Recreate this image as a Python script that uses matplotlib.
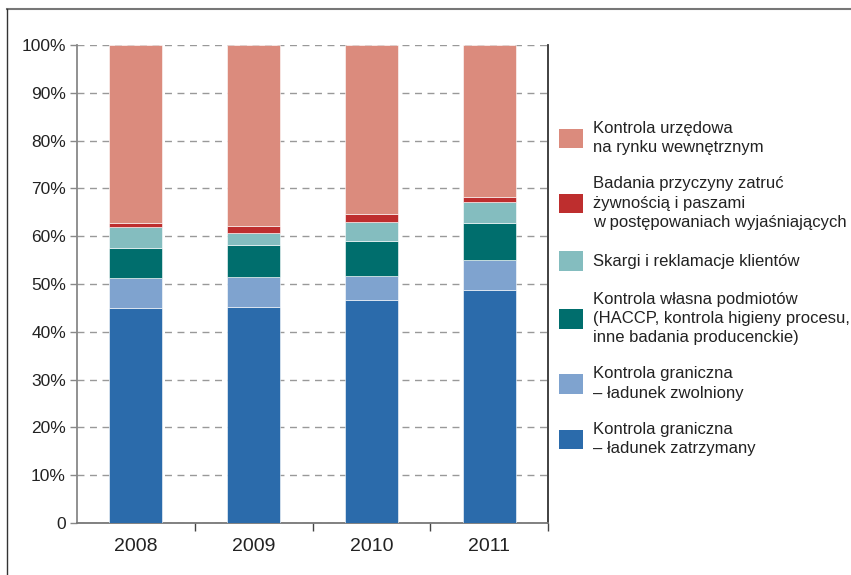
import numpy as np
import matplotlib
matplotlib.use("Agg")
import matplotlib.pyplot as plt
from matplotlib.lines import Line2D
from matplotlib.patches import Patch

plt.rcParams['font.family'] = ['Liberation Sans', 'DejaVu Sans']

years = ['2008', '2009', '2010', '2011']

# shares in % (bottom -> top)
zatrzymany = [45.0, 45.1, 46.7, 48.7]
zwolniony = [6.3, 6.3, 5.0, 6.3]
kontrola_wlasna = [6.3, 6.8, 7.3, 7.8]
skargi = [4.3, 2.5, 4.0, 4.3]
zatrucia = [0.9, 1.5, 1.6, 1.1]
urzedowa = [37.2, 37.8, 35.4, 31.8]

series = [
    (zatrzymany, '#2b6bab', 'Kontrola graniczna\n– ładunek zatrzymany'),
    (zwolniony, '#7fa3cf', 'Kontrola graniczna\n– ładunek zwolniony'),
    (kontrola_wlasna, '#006e6d', 'Kontrola własna podmiotów\n(HACCP, kontrola higieny procesu,\ninne badania producenckie)'),
    (skargi, '#84bdbf', 'Skargi i reklamacje klientów'),
    (zatrucia, '#be2e2e', 'Badania przyczyny zatruć\nżywnością i paszami\nw postępowaniach wyjaśniających'),
    (urzedowa, '#db8b7d', 'Kontrola urzędowa\nna rynku wewnętrznym'),
]

fig = plt.figure(figsize=(8.51, 5.75), dpi=100)
ax = fig.add_axes([77 / 851, 52 / 575, 471 / 851, 478 / 575])

x = np.arange(len(years))
bottom = np.zeros(len(years))
handles = []
for vals, col, lab in series:
    ax.bar(x, vals, 0.45, bottom=bottom, color=col, edgecolor='white',
           linewidth=0.4, zorder=3)
    bottom += np.array(vals)
    handles.append(Patch(facecolor=col, edgecolor='none', label=lab))

ax.set_xlim(-0.5, 3.5)
ax.set_ylim(0, 100)
ax.set_yticks(np.arange(0, 101, 10))
ax.set_yticklabels(['0'] + [f'{v}%' for v in range(10, 101, 10)])
ax.set_xticks(x)
ax.set_xticklabels(years)
ax.set_xticks(np.arange(0.5, 3.6, 1), minor=True)
ax.tick_params(axis='x', which='major', length=0, pad=11, labelsize=14,
               labelcolor='#222222')
ax.tick_params(axis='x', which='minor', length=6, color='#444444', width=1)
ax.tick_params(axis='y', length=5, color='#888888', width=1, labelsize=12.5,
               labelcolor='#222222', pad=3)
ax.yaxis.grid(True, linestyle=(0, (5, 4)), color='#999999', linewidth=1,
              zorder=0)

ax.spines['top'].set_visible(False)
ax.spines['left'].set_color('#888888')
ax.spines['left'].set_linewidth(1.3)
ax.spines['bottom'].set_color('#777777')
ax.spines['bottom'].set_linewidth(1.3)
ax.spines['right'].set_color('#333333')
ax.spines['right'].set_linewidth(1.3)

leg = fig.legend(handles=handles[::-1], loc='upper left',
                 bbox_to_anchor=(559 / 851, 1 - 121 / 575), frameon=False,
                 fontsize=12, handlelength=1.45, handleheight=1.45,
                 handletextpad=0.6, labelspacing=1.27, borderpad=0,
                 borderaxespad=0)
for t in leg.get_texts():
    t.set_color('#222222')
    t.set_linespacing(1.35)

# outer frame (top and left only)
fig.add_artist(Line2D([7 / 851, 1], [1 - 8.5 / 575, 1 - 8.5 / 575],
                      transform=fig.transFigure, color='#777777', lw=1.5))
fig.add_artist(Line2D([7 / 851, 7 / 851], [0, 1 - 8.5 / 575],
                      transform=fig.transFigure, color='#333333', lw=1))

fig.savefig('out.png', dpi=100)
